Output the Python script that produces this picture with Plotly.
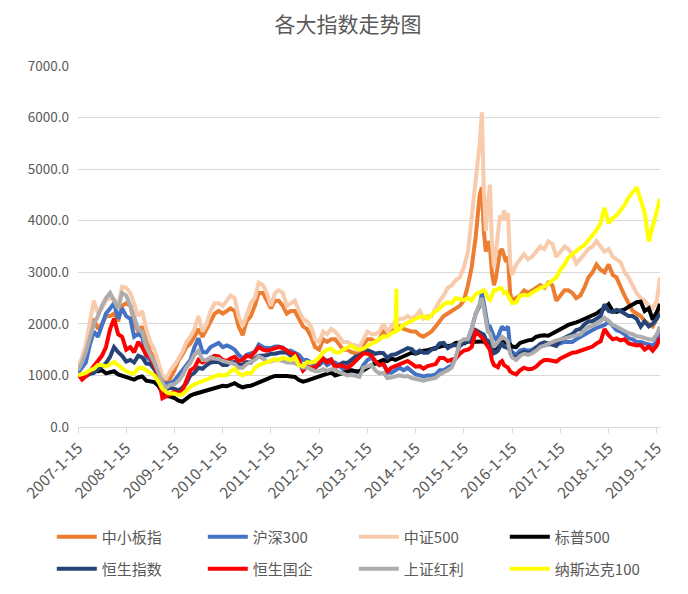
import plotly.graph_objects as go

# ---------------- category grid (monthly, plus month-ends during 2015) ----------------
dates = []
for yr in range(2007, 2019):
    for mo in range(1, 13):
        dates.append(f"{yr}-{mo:02d}-15")
        if yr == 2015 and mo >= 5:
            end_day = {5: 31, 6: 30, 7: 31, 8: 31, 9: 30, 10: 31, 11: 30, 12: 31}[mo]
            dates.append(f"{yr}-{mo:02d}-{end_day}")
dates += ["2019-01-15", "2019-02-08"]

# ---------------- series values ----------------
zxb = [  # 中小板指
    1100, 1250, 1450, 1800, 2100, 1900, 2000, 2150, 2150, 2200, 2050, 2350,
    2400, 2350, 2050, 1850, 1950, 1700, 1450, 1350, 1150, 900, 850, 950,
    1100, 1300, 1400, 1550, 1620, 1750, 1900, 1750, 1900, 2050, 2200, 2250,
    2200, 2250, 2300, 2250, 1950, 1780, 2050, 2150, 2350, 2600, 2600, 2450,
    2300, 2450, 2450, 2350, 2200, 2250, 2250, 2100, 1950, 1900, 1750, 1550,
    1500, 1700, 1650, 1700, 1700, 1600, 1500, 1500, 1450, 1430, 1420, 1600,
    1700, 1700, 1650, 1700, 1850, 1800, 1850, 1900, 1950, 1900, 1880, 1850,
    1850, 1780, 1750, 1800, 1850, 1950, 2050, 2150, 2200, 2250, 2300, 2350,
    2450, 2750, 3100, 3700, 4500, 4650, 3800, 3400, 3600, 3500, 3000, 2750, 2900, 3100, 3400, 3450, 3350, 3200, 3300, 2600,
    2450, 2500, 2550, 2650, 2600, 2650, 2700, 2750, 2700, 2800, 2750, 2450,
    2550, 2650, 2650, 2600, 2500, 2550, 2700, 2900, 3000, 3150, 3050, 3000,
    3150, 2950, 2900, 2700, 2550, 2400, 2250, 2200, 2150, 2050, 2000, 1950,
    2100, 2400,
]
hs300 = [  # 沪深300
    1050, 1150, 1250, 1600, 1850, 1750, 2000, 2200, 2300, 2400, 2100, 2300,
    2150, 2100, 1750, 1800, 1750, 1350, 1300, 1150, 1050, 830, 850, 850,
    900, 1000, 1100, 1200, 1300, 1550, 1720, 1450, 1450, 1550, 1600, 1630,
    1550, 1580, 1550, 1500, 1400, 1330, 1400, 1420, 1450, 1600, 1550, 1530,
    1530, 1560, 1560, 1540, 1480, 1480, 1450, 1400, 1300, 1300, 1250, 1180,
    1200, 1280, 1200, 1250, 1250, 1180, 1120, 1100, 1100, 1080, 1050, 1200,
    1300, 1350, 1250, 1200, 1250, 1050, 1050, 1100, 1150, 1100, 1150, 1080,
    1020, 1000, 980, 1000, 1000, 1020, 1100, 1100, 1150, 1200, 1350, 1600,
    1650, 1700, 1900, 2200, 2350, 2600, 2400, 2200, 1950, 1950, 1850, 1750, 1700, 1750, 1850, 1950, 1900, 1900, 1950, 1550,
    1450, 1400, 1480, 1500, 1480, 1500, 1550, 1570, 1570, 1600, 1630, 1600,
    1620, 1650, 1650, 1650, 1700, 1750, 1800, 1850, 1880, 1920, 1950, 1980,
    2050, 1950, 1880, 1850, 1800, 1720, 1700, 1650, 1650, 1620, 1600, 1580,
    1650, 1880,
]
zz500 = [  # 中证500
    1150, 1350, 1600, 2070, 2450, 2200, 2300, 2450, 2500, 2480, 2350, 2720,
    2700, 2600, 2350, 2150, 2250, 1900, 1650, 1500, 1250, 1000, 950, 1100,
    1200, 1350, 1450, 1650, 1750, 1900, 2150, 1850, 2000, 2250, 2400, 2400,
    2350, 2450, 2550, 2500, 2150, 1950, 2200, 2400, 2500, 2800, 2750, 2600,
    2350, 2600, 2650, 2600, 2350, 2400, 2450, 2250, 2100, 2050, 1950, 1700,
    1650, 1850, 1800, 1900, 1850, 1750, 1650, 1650, 1600, 1580, 1550, 1700,
    1850, 1800, 1800, 1850, 2000, 1850, 1950, 2050, 2100, 2100, 2150, 2100,
    2150, 2250, 2100, 2150, 2150, 2300, 2450, 2550, 2700, 2750, 2850, 2900,
    3100, 3400, 4000, 4800, 5500, 6100, 4600, 3800, 4300, 4700, 3600, 3100, 3400, 3700, 4100, 4000, 4200, 4000, 4150, 3200,
    2950, 3150, 3250, 3350, 3250, 3300, 3400, 3500, 3450, 3600, 3550, 3300,
    3400, 3500, 3450, 3350, 3170, 3250, 3350, 3450, 3500, 3600, 3500, 3400,
    3450, 3300, 3250, 3200, 3000, 2900, 2750, 2600, 2500, 2450, 2350, 2300,
    2450, 2900,
]
sp500 = [  # 标普500
    1000, 1000, 990, 1050, 1090, 1080, 1100, 1040, 1060, 1080, 1020, 1000,
    960, 940, 920, 960, 980, 900, 880, 870, 800, 660, 600, 590,
    560, 510, 490, 560, 610, 640, 660, 700, 720, 740, 760, 780,
    800, 790, 820, 850, 800, 770, 790, 800, 830, 870, 890, 930,
    960, 990, 990, 1000, 990, 980, 970, 910, 880, 900, 930, 950,
    990, 1020, 1050, 1060, 1000, 1030, 1050, 1070, 1100, 1080, 1080, 1100,
    1160, 1200, 1230, 1260, 1300, 1280, 1330, 1300, 1340, 1380, 1420, 1440,
    1420, 1460, 1480, 1490, 1510, 1540, 1540, 1580, 1570, 1580, 1630, 1640,
    1620, 1660, 1650, 1660, 1670, 1660, 1650, 1640, 1660, 1640, 1600, 1530, 1530, 1520, 1600, 1640, 1650, 1640, 1620, 1600,
    1560, 1550, 1630, 1660, 1680, 1690, 1750, 1770, 1780, 1770, 1810, 1840,
    1880, 1940, 1980, 2000, 2030, 2060, 2090, 2120, 2150, 2200, 2260, 2300,
    2380, 2250, 2230, 2250, 2280, 2330, 2380, 2420, 2430, 2250, 2300, 2080,
    2230, 2380,
]
hsi = [  # 恒生指数
    1000, 990, 990, 1030, 1050, 1120, 1180, 1240, 1360, 1550, 1450, 1380,
    1270, 1300, 1250, 1380, 1350, 1230, 1220, 1120, 980, 780, 740, 760,
    740, 710, 760, 850, 1000, 1050, 1150, 1130, 1200, 1250, 1260, 1260,
    1200, 1200, 1250, 1260, 1200, 1210, 1260, 1250, 1330, 1380, 1380, 1390,
    1420, 1420, 1440, 1450, 1440, 1380, 1380, 1250, 1100, 1180, 1120, 1140,
    1230, 1320, 1280, 1310, 1170, 1220, 1250, 1240, 1310, 1360, 1390, 1430,
    1490, 1460, 1420, 1440, 1430, 1340, 1400, 1410, 1460, 1490, 1530, 1510,
    1430, 1480, 1440, 1440, 1500, 1520, 1620, 1630, 1530, 1580, 1590, 1570,
    1640, 1670, 1680, 1880, 1840, 1830, 1790, 1700, 1680, 1650, 1560, 1430, 1450, 1480, 1560, 1630, 1560, 1540, 1530, 1480,
    1380, 1340, 1420, 1460, 1440, 1460, 1530, 1610, 1640, 1620, 1610, 1570,
    1690, 1730, 1760, 1800, 1880, 1900, 1990, 2050, 2050, 2100, 2150, 2380,
    2250, 2230, 2270, 2250, 2200, 2150, 2150, 2100, 1950, 2050, 1950, 2000,
    2100, 2200,
]
hscei = [  # 恒生国企
    1030, 920, 980, 1080, 1200, 1300, 1380, 1550, 1900, 2100, 1800, 1750,
    1500, 1550, 1450, 1650, 1550, 1400, 1350, 1200, 1000, 560, 600, 640,
    680, 650, 700, 900, 1100, 1150, 1300, 1250, 1300, 1350, 1380, 1370,
    1300, 1280, 1330, 1360, 1280, 1300, 1380, 1360, 1450, 1550, 1500, 1480,
    1500, 1520, 1550, 1530, 1480, 1430, 1420, 1300, 1100, 1180, 1150, 1150,
    1250, 1330, 1250, 1300, 1150, 1200, 1180, 1150, 1200, 1280, 1350, 1430,
    1420, 1380, 1280, 1200, 1220, 1080, 1150, 1180, 1230, 1250, 1280, 1230,
    1170, 1180, 1130, 1180, 1200, 1220, 1340, 1340, 1280, 1300, 1330, 1420,
    1480, 1500, 1550, 1850, 1780, 1750, 1700, 1620, 1550, 1500, 1300, 1200, 1180, 1160, 1250, 1280, 1200, 1180, 1150, 1080,
    1050, 1020, 1100, 1150, 1120, 1130, 1170, 1250, 1300, 1300, 1280, 1270,
    1330, 1370, 1420, 1440, 1450, 1480, 1520, 1550, 1560, 1620, 1660, 1900,
    1780, 1700, 1720, 1680, 1700, 1620, 1600, 1580, 1590, 1500, 1560, 1480,
    1580, 1730,
]
sse_div = [  # 上证红利
    1100, 1250, 1450, 1700, 2000, 2150, 2350, 2500, 2600, 2450, 2300, 2600,
    2550, 2350, 2100, 1900, 1850, 1550, 1400, 1250, 1050, 850, 760, 820,
    830, 900, 1000, 1150, 1250, 1400, 1480, 1300, 1300, 1350, 1330, 1320,
    1280, 1260, 1250, 1220, 1150, 1150, 1220, 1250, 1300, 1370, 1330, 1260,
    1270, 1300, 1300, 1280, 1250, 1250, 1240, 1200, 1150, 1160, 1120, 1080,
    1080, 1120, 1090, 1120, 1110, 1060, 1040, 1000, 1010, 990, 970, 1150,
    1180, 1200, 1100, 1040, 1050, 950, 960, 980, 1000, 980, 990, 950,
    930, 920, 900, 920, 930, 950, 1020, 1050, 1100, 1150, 1350, 1650,
    1700, 1700, 1900, 2200, 2400, 2500, 2300, 2100, 1850, 1820, 1650, 1550, 1600, 1650, 1720, 1750, 1720, 1700, 1650, 1430,
    1350, 1300, 1380, 1420, 1400, 1430, 1480, 1550, 1580, 1620, 1660, 1680,
    1700, 1720, 1740, 1750, 1760, 1800, 1880, 1940, 1960, 2000, 2050, 2120,
    2050, 1980, 1950, 1900, 1860, 1820, 1800, 1760, 1750, 1720, 1700, 1690,
    1800, 1950,
]
ndx100 = [  # 纳斯达克100
    1000, 1020, 1050, 1100, 1130, 1200, 1200, 1170, 1220, 1260, 1200, 1140,
    1080, 1050, 1040, 1140, 1150, 1100, 1060, 1000, 880, 740, 670, 650,
    650, 620, 630, 720, 780, 830, 860, 880, 920, 960, 980, 1010,
    1000, 1010, 1080, 1130, 1040, 1000, 1050, 1040, 1140, 1200, 1230, 1250,
    1280, 1320, 1300, 1340, 1320, 1300, 1360, 1200, 1180, 1260, 1250, 1270,
    1350, 1450, 1500, 1520, 1450, 1440, 1500, 1540, 1580, 1520, 1500, 1520,
    1580, 1620, 1650, 1700, 1760, 1750, 1820, 1850, 1900, 1980, 2020, 2080,
    2100, 2130, 2150, 2100, 2180, 2250, 2300, 2380, 2420, 2400, 2500, 2480,
    2460, 2500, 2450, 2580, 2620, 2650, 2650, 2600, 2500, 2460, 2550, 2650, 2650, 2680, 2700, 2680, 2600, 2620, 2550, 2460,
    2400, 2420, 2550, 2560, 2550, 2600, 2650, 2700, 2720, 2780, 2820, 2900,
    3050, 3150, 3280, 3350, 3430, 3480, 3520, 3620, 3700, 3820, 3950, 4250,
    3950, 4050, 4100, 4200, 4300, 4450, 4550, 4650, 4400, 4150, 3600, 3900,
    4250, 4420,
]
# one-day outlier visible on the 纳斯达克100 line
ndx_spike_dates = ["2013-08-22", "2013-08-23"]
ndx_spike_vals = [2680, 1860]

names = ["中小板指", "沪深300", "中证500", "标普500", "恒生指数", "恒生国企", "上证红利", "纳斯达克100"]
colors = ["#ED7D31", "#4472C4", "#F8CBAD", "#000000", "#264478", "#FF0000", "#ADADAD", "#FFFF00"]
series = [zxb, hs300, zz500, sp500, hsi, hscei, sse_div, ndx100]

tick_years = list(range(2007, 2020))
tick_vals = [f"{y}-01-15" for y in tick_years]
tick_text = [f"{y}-1-15" for y in tick_years]

fig = go.Figure()
for i, (name, col, vals) in enumerate(zip(names, colors, series)):
    assert len(vals) == len(dates), (name, len(vals), len(dates))
    xs, ys = list(dates), list(vals)
    if name == "纳斯达克100":
        pts = sorted(list(zip(xs, ys)) + list(zip(ndx_spike_dates, ndx_spike_vals)))
        xs = [p[0] for p in pts]
        ys = [p[1] for p in pts]
    fig.add_trace(go.Scatter(x=xs, y=ys, mode="lines", name=name,
                             legend="legend" if i < 4 else "legend2",
                             line=dict(color=col, width=4)))

grey = "#595959"
W, H = 680, 586          # page body has an 8px margin, so the figure is drawn 8px in
L, T, PLOT_H = 70, 58, 361
B = H - T - PLOT_H
legend_common = dict(orientation="h", x=-0.045, xanchor="left", yanchor="middle",
                     font=dict(size=15, color=grey), entrywidth=96, itemwidth=40,
                     traceorder="normal", bgcolor="rgba(0,0,0,0)")
fig.update_layout(
    width=W, height=H,
    margin=dict(l=L, r=28, t=T, b=B, autoexpand=False),
    paper_bgcolor="white", plot_bgcolor="white",
    font=dict(family="Noto Sans CJK SC, Noto Sans, sans-serif", color=grey),
    title=dict(text="各大指数走势图", x=0.5, xanchor="center", y=1 - 17 / H, yanchor="middle",
               font=dict(size=21, color=grey)),
    xaxis=dict(type="date", range=["2007-01-15", "2019-02-08"], automargin=False,
               tickmode="array", tickvals=tick_vals, ticktext=tick_text, tickangle=-45,
               showgrid=False, zeroline=False, showline=True, linecolor="#D9D9D9", linewidth=1,
               ticks="outside", ticklen=5, tickcolor="#D9D9D9",
               tickfont=dict(size=15.5, color=grey)),
    yaxis=dict(range=[0, 7000], tickmode="linear", tick0=0, dtick=1000, tickformat=".1f",
               automargin=False,
               showgrid=True, gridcolor="#D9D9D9", gridwidth=1, zeroline=False, showline=False,
               ticks="", ticklabelstandoff=8, tickfont=dict(size=13.5, color=grey)),
    legend=dict(y=(PLOT_H + T - 529) / PLOT_H, **legend_common),
    legend2=dict(y=(PLOT_H + T - 561) / PLOT_H, **legend_common),
    showlegend=True,
)

fig.write_html("out.html")
